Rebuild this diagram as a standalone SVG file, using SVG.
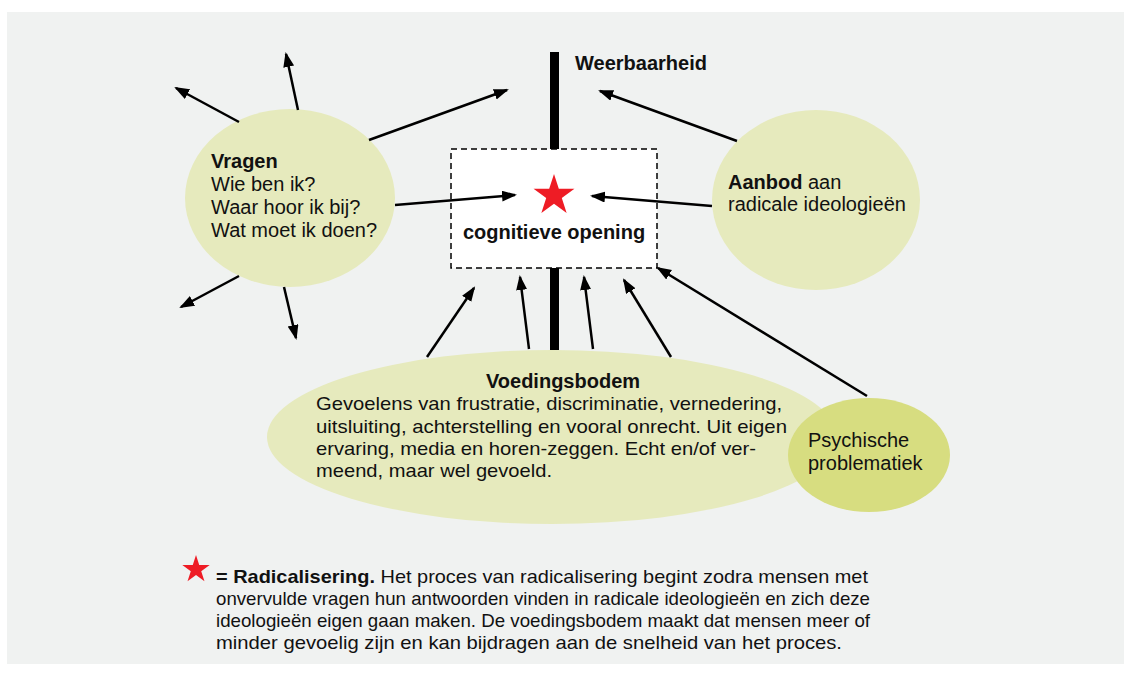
<svg xmlns="http://www.w3.org/2000/svg" width="1132" height="675" viewBox="0 0 1132 675">
<style>
.t{font-family:"Liberation Sans",Arial,sans-serif;font-size:20px;fill:#111}
.b{font-weight:bold}
.n{font-size:19px}
.light{fill:#e6eabd}
.dark{fill:#d7dd80}
.c line{stroke:#000;stroke-width:2.5;marker-end:url(#ah)}
</style>
<defs>
<marker id="ah" markerUnits="userSpaceOnUse" markerWidth="16" markerHeight="12" refX="13" refY="5.5" orient="auto">
<path d="M0,0 L15,5.5 L0,11 z" fill="#000"/>
</marker>
<polygon id="star" points="0,-21.5 4.82,-6.63 20.45,-6.64 7.8,2.53 12.64,17.39 0,8.2 -12.64,17.39 -7.8,2.53 -20.45,-6.64 -4.82,-6.63" fill="#ee1c25"/>
</defs>
<rect x="7" y="12" width="1117" height="652" fill="#f0f2f1"/>
<g id="weerbaarheid">
<rect x="550" y="52" width="9" height="298" fill="#000"/>
<text class="t b" x="575" y="70">Weerbaarheid</text>
</g>
<g id="vragen">
<ellipse class="light" cx="290" cy="198" rx="105" ry="89"/>
<text class="t" x="211" y="168"><tspan class="b">Vragen</tspan><tspan x="211" y="191">Wie ben ik?</tspan><tspan x="211" y="214">Waar hoor ik bij?</tspan><tspan x="211" y="237">Wat moet ik doen?</tspan></text>
</g>
<g id="aanbod">
<ellipse class="light" cx="816" cy="200" rx="104" ry="90"/>
<text class="t" x="728" y="189"><tspan class="b">Aanbod</tspan> aan<tspan x="728" y="211">radicale ideologieën</tspan></text>
</g>
<g id="voedingsbodem">
<ellipse class="light" cx="552" cy="437" rx="285" ry="87"/>
<text class="t b" x="563" y="388" text-anchor="middle">Voedingsbodem</text>
<text class="t n" x="316" y="410" textLength="466" lengthAdjust="spacingAndGlyphs">Gevoelens van frustratie, discriminatie, vernedering,</text>
<text class="t n" x="316" y="433" textLength="471" lengthAdjust="spacingAndGlyphs">uitsluiting, achterstelling en vooral onrecht. Uit eigen</text>
<text class="t n" x="316" y="455" textLength="440" lengthAdjust="spacingAndGlyphs">ervaring, media en horen-zeggen. Echt en/of ver-</text>
<text class="t n" x="316" y="477" textLength="236" lengthAdjust="spacingAndGlyphs">meend, maar wel gevoeld.</text>
</g>
<g id="psychische">
<ellipse class="dark" cx="869" cy="455" rx="81" ry="57"/>
<text class="t" x="808" y="447">Psychische<tspan x="808" y="470">problematiek</tspan></text>
</g>
<g id="opening">
<rect x="451" y="149" width="206" height="119" fill="#fff" stroke="#000" stroke-width="1.5" stroke-dasharray="6,4"/>
<use href="#star" transform="translate(554,195.5)"/>
<text class="t b" x="554" y="239" text-anchor="middle">cognitieve opening</text>
</g>
<g id="connectors" class="c">
<line x1="239" y1="122" x2="176" y2="88"/>
<line x1="298" y1="110" x2="286" y2="54"/>
<line x1="369" y1="140" x2="507" y2="90"/>
<line x1="395" y1="205" x2="515" y2="195"/>
<line x1="239" y1="276" x2="181" y2="307"/>
<line x1="284" y1="287" x2="296" y2="338"/>
<line x1="737" y1="141" x2="600" y2="91"/>
<line x1="712" y1="206" x2="592" y2="196"/>
<line x1="427" y1="357" x2="474" y2="288"/>
<line x1="529" y1="349" x2="520" y2="277"/>
<line x1="593" y1="349" x2="584" y2="277"/>
<line x1="671" y1="357" x2="624" y2="280"/>
<line x1="867" y1="396" x2="658" y2="268"/>
</g>
<g id="legend">
<use href="#star" transform="translate(196,569.5) scale(0.67)"/>
<text class="t n" x="216" y="583" textLength="652" lengthAdjust="spacingAndGlyphs"><tspan class="b">= Radicalisering.</tspan> Het proces van radicalisering begint zodra mensen met</text>
<text class="t n" x="216" y="605" textLength="654" lengthAdjust="spacingAndGlyphs">onvervulde vragen hun antwoorden vinden in radicale ideologieën en zich deze</text>
<text class="t n" x="216" y="627" textLength="654" lengthAdjust="spacingAndGlyphs">ideologieën eigen gaan maken. De voedingsbodem maakt dat mensen meer of</text>
<text class="t n" x="216" y="649" textLength="626" lengthAdjust="spacingAndGlyphs">minder gevoelig zijn en kan bijdragen aan de snelheid van het proces.</text>
</g>
</svg>
